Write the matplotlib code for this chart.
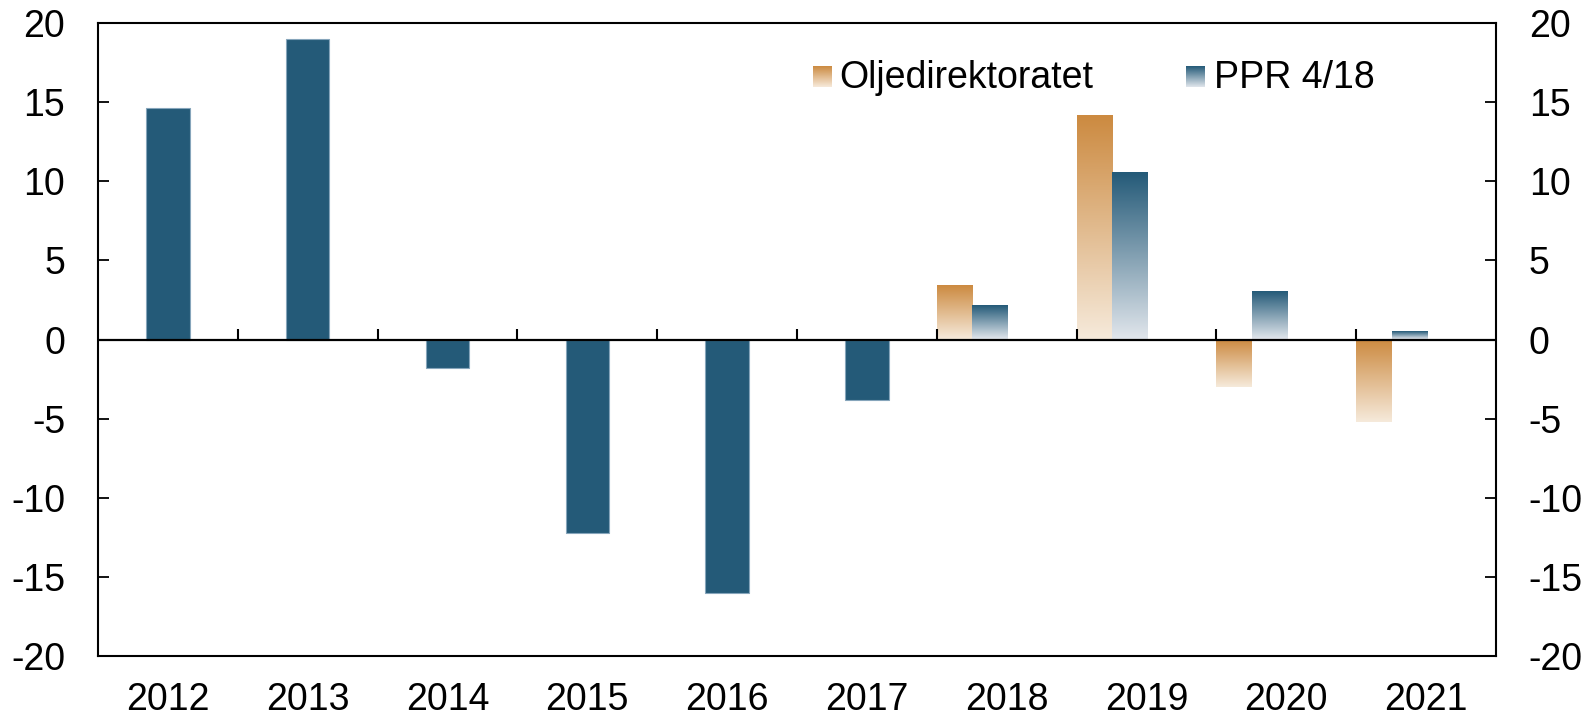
import numpy as np
import matplotlib
matplotlib.use('Agg')
import matplotlib.pyplot as plt
from matplotlib.colors import LinearSegmentedColormap

# ---- data ----
years = ['2012', '2013', '2014', '2015', '2016', '2017', '2018', '2019', '2020', '2021']
ppr = np.array([14.6, 19.0, -1.8, -12.2, -16.0, -3.8, 2.1, 10.5, 3.0, 0.5])
oljedir = np.array([np.nan, np.nan, np.nan, np.nan, np.nan, np.nan, 3.4, 14.1, -3.0, -5.2])
series_labels = ['Oljedirektoratet', 'PPR 4/18']
yticks = [-20, -15, -10, -5, 0, 5, 10, 15, 20]

plt.rcParams['font.family'] = ['Liberation Sans', 'DejaVu Sans']
plt.rcParams['axes.unicode_minus'] = False

W, H = 1592, 718
fig = plt.figure(figsize=(W / 100, H / 100), dpi=100)
ax = fig.add_axes([98 / W, 1 - 656 / H, 1398 / W, 633 / H])

solid_blue = '#245A78'
orange_cmap = LinearSegmentedColormap.from_list('o', ['#CC8A40', '#F6EADB'])
blue_cmap = LinearSegmentedColormap.from_list('b', ['#245A78', '#E1E6EC'])
grad = np.linspace(0, 1, 256).reshape(-1, 1)

x = np.arange(len(years))
hist = np.isnan(oljedir)

# historical bars (solid)
ax.bar(x[hist], ppr[hist], width=0.31, color=solid_blue, edgecolor='#86a5bb',
       linewidth=0.8, zorder=2)

# projection bars (gradient)
w = 0.253
bars_o = ax.bar(x[~hist] - 0.5, oljedir[~hist], width=w, align='edge',
                color='none', linewidth=0)
bars_p = ax.bar(x[~hist] - 0.5 + w, ppr[~hist], width=w, align='edge',
                color='none', linewidth=0)
for bars, cmap in ((bars_o, orange_cmap), (bars_p, blue_cmap)):
    for r in bars:
        x0, y0, wd, h = r.get_x(), r.get_y(), r.get_width(), r.get_height()
        ylo, yhi = min(y0, y0 + h), max(y0, y0 + h)
        ax.imshow(grad, cmap=cmap, extent=[x0, x0 + wd, ylo, yhi], origin='upper',
                  aspect='auto', interpolation='bilinear', zorder=2)

# zero line and category boundary ticks
ax.axhline(0, color='black', lw=1.6, zorder=3)
ax.vlines(np.arange(0.5, len(years) - 0.5, 1), 0, 0.68, color='black', lw=1.5, zorder=3)

# axes
ax.set_xlim(-0.5, len(years) - 0.5)
ax.set_ylim(-20, 20)
ax.set_yticks(yticks)
ax.set_yticklabels([str(v) for v in yticks])
ax.set_xticks(x)
ax.set_xticklabels(years)
ax.tick_params(axis='x', length=0, pad=19, labelsize=27)
ax.tick_params(axis='y', direction='in', length=8, width=1.3, pad=23.5, labelsize=27,
               left=True, right=True, labelleft=True, labelright=True)
for s in ax.spines.values():
    s.set_linewidth(1.5)
    s.set_color('black')

# legend (gradient swatches)
sw = [(orange_cmap, 0.5112, 0.5241, series_labels[0], 0.5305),
      (blue_cmap, 0.7783, 0.7918, series_labels[1], 0.7985)]
for cmap, xa, xb, lab, xt in sw:
    ax.imshow(grad, cmap=cmap, extent=[xa, xb, 0.8989, 0.9305], origin='upper',
              aspect='auto', transform=ax.transAxes, clip_on=False, zorder=4)
    ax.text(xt, 0.8978, lab, transform=ax.transAxes, fontsize=27, va='baseline', ha='left')

ax.set_xlim(-0.5, len(years) - 0.5)
ax.set_ylim(-20, 20)

fig.savefig('out.png', dpi=100)
